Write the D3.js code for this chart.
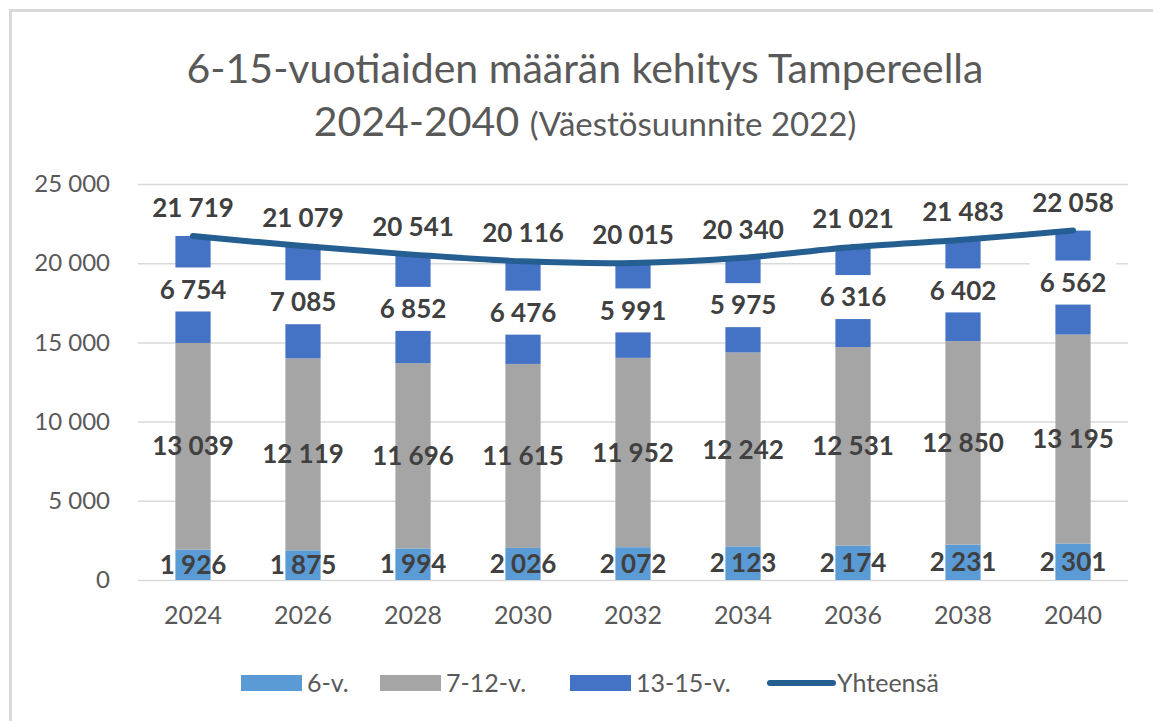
<!DOCTYPE html>
<html>
<head>
<meta charset="utf-8">
<script src="https://cdn.jsdelivr.net/npm/d3@7"></script>
<style>
  html, body { margin: 0; padding: 0; background: #fff; }
  svg { display: block; font-family: Lato, "Open Sans", sans-serif; }
</style>
</head>
<body>
<svg id="chart" width="1153" height="721"></svg>
<script>
// data
var years = ['2024', '2026', '2028', '2030', '2032', '2034', '2036', '2038', '2040'];
var age6 = [1926, 1875, 1994, 2026, 2072, 2123, 2174, 2231, 2301];
var age7to12 = [13039, 12119, 11696, 11615, 11952, 12242, 12531, 12850, 13195];
var age13to15 = [6754, 7085, 6852, 6476, 5991, 5975, 6316, 6402, 6562];
var total = [21719, 21079, 20541, 20116, 20015, 20340, 21021, 21483, 22058];
var yTicks = [0, 5000, 10000, 15000, 20000, 25000];

var seriesNames = ['6-v.', '7-12-v.', '13-15-v.', 'Yhteensä'];
var colors = ['#5B9BD5', '#A5A5A5', '#4472C4', '#255E91'];

var svg = d3.select('svg#chart');
var fmt = function(v) {
    return d3.format(',')(v).replace(/,/g, '\u00a0');
};

var x = d3.scaleBand()
    .domain(years)
    .range([138, 1128])
    .paddingInner(0.68)
    .paddingOuter(0.34);

var y = d3.scaleLinear()
    .domain([0, 25000])
    .range([580, 184]);

// frame (only top and left edges show)
svg.append('path')
    .attr('d', 'M10.5,721 L10.5,10.5 L1153,10.5')
    .attr('fill', 'none')
    .attr('stroke', '#D9D9D9')
    .attr('stroke-width', 3);

// title
var title = svg.append('text')
    .attr('text-anchor', 'middle')
    .attr('fill', '#595959');
title.append('tspan')
    .attr('x', 585).attr('y', 83)
    .style('font-size', '41px')
    .text('6-15-vuotiaiden määrän kehitys Tampereella');
title.append('tspan')
    .attr('x', 585).attr('y', 136)
    .style('font-size', '41px')
    .text('2024-2040 ')
    .append('tspan')
    .style('font-size', '33px')
    .text('(Väestösuunnite 2022)');

// gridlines + y axis
var yAxis = d3.axisLeft(y)
    .tickValues(yTicks)
    .tickSize(-(1128 - 138))
    .tickPadding(28)
    .tickFormat(fmt);

var gY = svg.append('g')
    .attr('transform', 'translate(138,0)')
    .call(yAxis);
gY.select('.domain').remove();
gY.selectAll('.tick line')
    .attr('stroke', '#D9D9D9')
    .attr('stroke-width', 1.5);
gY.selectAll('.tick text')
    .attr('fill', '#595959')
    .style('font-size', '24px')
    .style('font-family', 'Lato, sans-serif');

// x axis labels
var xAxis = d3.axisBottom(x).tickSize(0).tickPadding(26);
var gX = svg.append('g')
    .attr('transform', 'translate(0,580)')
    .call(xAxis);
gX.select('.domain').remove();
gX.selectAll('.tick text')
    .attr('fill', '#595959')
    .style('font-size', '25px')
    .style('font-family', 'Lato, sans-serif');

// stacked bars
var rows = years.map(function(yr, i) {
    return {year: yr, a: age6[i], b: age7to12[i], c: age13to15[i], total: total[i]};
});
var stack = d3.stack().keys(['a', 'b', 'c']);
var layers = stack(rows);

var gBars = svg.append('g');
gBars.selectAll('g')
    .data(layers)
    .join('g')
    .attr('fill', function(d, i) { return colors[i]; })
    .selectAll('rect')
    .data(function(d) { return d; })
    .join('rect')
    .attr('x', function(d) { return x(d.data.year); })
    .attr('width', x.bandwidth())
    .attr('y', function(d) { return y(d[1]); })
    .attr('height', function(d) { return y(d[0]) - y(d[1]); });

var labelFont = '26px';
var labelColor = '#404040';

// white boxes behind the 13-15 labels
var gBoxes = svg.append('g');
var gLabels = svg.append('g')
    .attr('text-anchor', 'middle')
    .attr('fill', labelColor)
    .style('font-weight', 'bold')
    .style('font-size', labelFont);

layers.forEach(function(layer, li) {
    layer.forEach(function(d) {
        var cx = x(d.data.year) + x.bandwidth() / 2;
        var cy = y((d[0] + d[1]) / 2);
        var t = gLabels.append('text')
            .attr('x', cx)
            .attr('y', cy)
            .attr('dy', '0.35em')
            .text(fmt(d[1] - d[0]));
        if (li === 2) {
            var w = t.node().getComputedTextLength();
            gBoxes.append('rect')
                .attr('x', cx - w / 2 - 10)
                .attr('y', cy - 22)
                .attr('width', w + 20)
                .attr('height', 44)
                .attr('fill', '#fff');
        }
    });
});

// total line
var line = d3.line()
    .x(function(d, i) { return x(years[i]) + x.bandwidth() / 2; })
    .y(function(d) { return y(d); })
    .curve(d3.curveCatmullRom);

svg.append('path')
    .datum(total)
    .attr('d', line)
    .attr('fill', 'none')
    .attr('stroke', colors[3])
    .attr('stroke-width', 6)
    .attr('stroke-linecap', 'round');

gLabels.raise();
gLabels.selectAll(null)
    .data(total)
    .join('text')
    .attr('x', function(d, i) { return x(years[i]) + x.bandwidth() / 2; })
    .attr('y', function(d) { return y(d) - 28; })
    .attr('dy', '0.35em')
    .text(fmt);

// legend
var legendItems = [
    {name: seriesNames[0], color: colors[0], type: 'rect', x: 241},
    {name: seriesNames[1], color: colors[1], type: 'rect', x: 380},
    {name: seriesNames[2], color: colors[2], type: 'rect', x: 570},
    {name: seriesNames[3], color: colors[3], type: 'line', x: 767}
];
var gLegend = svg.append('g')
    .attr('transform', 'translate(0,683)');
var li = gLegend.selectAll('g')
    .data(legendItems)
    .join('g')
    .attr('transform', function(d) { return 'translate(' + d.x + ',0)'; });
li.filter(function(d) { return d.type === 'rect'; })
    .append('rect')
    .attr('x', 0).attr('y', -8)
    .attr('width', 61).attr('height', 16)
    .attr('fill', function(d) { return d.color; });
li.filter(function(d) { return d.type === 'line'; })
    .append('line')
    .attr('x1', 3).attr('x2', 66)
    .attr('stroke', function(d) { return d.color; })
    .attr('stroke-width', 6)
    .attr('stroke-linecap', 'round');
li.append('text')
    .attr('x', function(d) { return d.type === 'line' ? 70 : 66; })
    .attr('dy', '0.35em')
    .attr('fill', '#595959')
    .style('font-size', '25px')
    .text(function(d) { return d.name; });
</script>
</body>
</html>
